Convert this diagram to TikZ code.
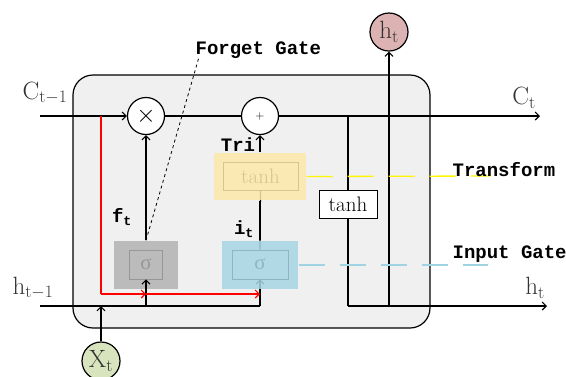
\documentclass[tikz,border=0pt]{standalone}
\usepackage{fontspec}
\newfontfamily\monob{Liberation Mono}
\newfontfamily\greekf{Liberation Serif}
\usetikzlibrary{arrows.meta}
\definecolor{cellgray}{RGB}{240,240,240}
\definecolor{fgray}{RGB}{178,178,178}
\definecolor{tyellow}{RGB}{253,232,170}
\definecolor{iblue}{RGB}{166,214,228}
\definecolor{htpink}{RGB}{220,178,178}
\definecolor{xtgreen}{RGB}{216,228,190}
\definecolor{dashyellow}{RGB}{255,245,0}
\definecolor{dashblue}{RGB}{160,212,226}
\definecolor{lblgray}{RGB}{50,50,50}
\begin{document}
\begin{tikzpicture}[x=1pt,y=-1pt,line width=1.2pt,
  arr/.style={-{Straight Barb[length=4pt,width=8pt,line width=1.1pt]}},
  op/.style={circle,draw,fill=white,minimum size=37pt,inner sep=0pt},
  io/.style={circle,draw,minimum size=38pt,inner sep=0pt,font=\fontsize{25}{25}\selectfont,text=lblgray},
  lbl/.style={font=\fontsize{25}{25}\selectfont,text=lblgray,inner sep=0pt},
  glbl/.style={font=\monob\bfseries\fontsize{19}{19}\selectfont,inner sep=0pt},
  inbox/.style={draw,line width=0.8pt,inner sep=0pt,font=\fontsize{21}{21}\selectfont},
  gatefill/.style={inner sep=0pt,draw=none},
]
\useasboundingbox (0,0) rectangle (566,376);
% cell background
\draw[fill=cellgray,rounded corners=20pt] (73,75) rectangle (430,328);

% coordinates
\coordinate (cin) at (40,116);
\coordinate (cout) at (540,116);
\coordinate (hin) at (40,306);
\coordinate (hout) at (547,306);
\coordinate (b1) at (348,116);
\coordinate (b2) at (348,306);
\coordinate (j1) at (389,116);
\coordinate (j2) at (389,306);
\coordinate (r0) at (101,116);
\coordinate (r1) at (101,294);
\coordinate (rf) at (146,294);
\coordinate (ri) at (260,294);
\coordinate (hf) at (146,306);
\coordinate (hi) at (260,306);
\coordinate (xj) at (101,306);
\coordinate (fgtip) at (199,57);
\coordinate (yend) at (490,176);
\coordinate (bend) at (488,265);

% inner boxes (under the translucent gate fills)
\node[inbox,minimum width=33pt,minimum height=29pt] (fsig) at (146,264.5) {\greekf σ};
\node[inbox,minimum width=56pt,minimum height=29pt] (isig) at (260,264.5) {\greekf σ};
\node[inbox,minimum width=75pt,minimum height=28pt] (tin) at (260.5,176) {tanh};

% lines under the gates
\draw[arr] (hi) -- (isig.south);
\draw (isig.north) -- (tin.south);

% translucent gate fills
\node[gatefill,fill=fgray,fill opacity=0.85,minimum width=64pt,minimum height=48pt] (fgate) at (146,265) {};
\node[gatefill,fill=iblue,fill opacity=0.85,minimum width=76pt,minimum height=48pt] (igate) at (260,265) {};
\node[gatefill,fill=tyellow,fill opacity=0.85,minimum width=92pt,minimum height=47pt] (tgate) at (260,176.5) {};

% operators and terminals
\node[op,font=\fontsize{26}{26}\selectfont] (mult) at (146,116) {$\times$};
\node[op,font=\fontsize{13}{13}\selectfont] (plus) at (260,116) {$+$};
\node[io,fill=htpink] (ht) at (389,32) {$\mathrm{h_t}$};
\node[io,fill=xtgreen] (xt) at (101,361) {$\mathrm{X_t}$};
\node[draw,fill=white,line width=0.8pt,inner sep=0pt,minimum width=58pt,minimum height=28pt,font=\fontsize{21}{21}\selectfont] (tanh2) at (348,204) {tanh};

% cell state line
\draw[arr] (cin) -- (mult);
\draw (mult) -- (plus);
\draw[arr] (plus) -- (cout);
\draw (b1) -- (tanh2.north);
\draw (tanh2.south) -- (b2);
\draw[arr] (b2) -- (hout);
\draw[arr] (j2) -- (ht);

% hidden input line
\draw (hin) -- (hi);
\draw[arr] (hf) -- (fsig.south);
\draw[arr] (xt) -- (xj);

% red path
\draw[red] (r0) -- (r1);
\draw[red,arr] (r1) -- (rf);
\draw[red,arr] (rf) -- (ri);

% gate outputs
\draw[arr] (fgate.north) -- (mult);
\draw (igate.north) -- (tgate.south);
\draw[arr] (tgate.north) -- (plus);

% dashed label leaders
\draw[dashed,line width=0.8pt] (fgate.north) -- (fgtip);
\draw[dashyellow,line width=1.3pt,dash pattern=on 26pt off 15pt] (tgate.east) -- (yend);
\draw[dashblue,line width=1.3pt,dash pattern=on 26pt off 15pt] (igate.east) -- (bend);

% labels
\node[lbl] (lcin) at (45,93) {$\mathrm{C_{t-1}}$};
\node[lbl] (lcout) at (524,98) {$\mathrm{C_t}$};
\node[lbl] (lhin) at (33,288) {$\mathrm{h_{t-1}}$};
\node[lbl] (lhout) at (535,288) {$\mathrm{h_t}$};
\node[glbl,anchor=west] (lfg) at (195,50) {Forget Gate};
\node[glbl,anchor=west] (ltr) at (452,170) {Transform};
\node[glbl,anchor=west] (lig) at (452,254) {Input Gate};
\node[glbl] (lft) at (122,217) {f\textsubscript{t}};
\node[glbl] (lit) at (244,229) {i\textsubscript{t}};
\node[glbl] (ltri) at (238,145) {Tri};
\end{tikzpicture}
\end{document}
